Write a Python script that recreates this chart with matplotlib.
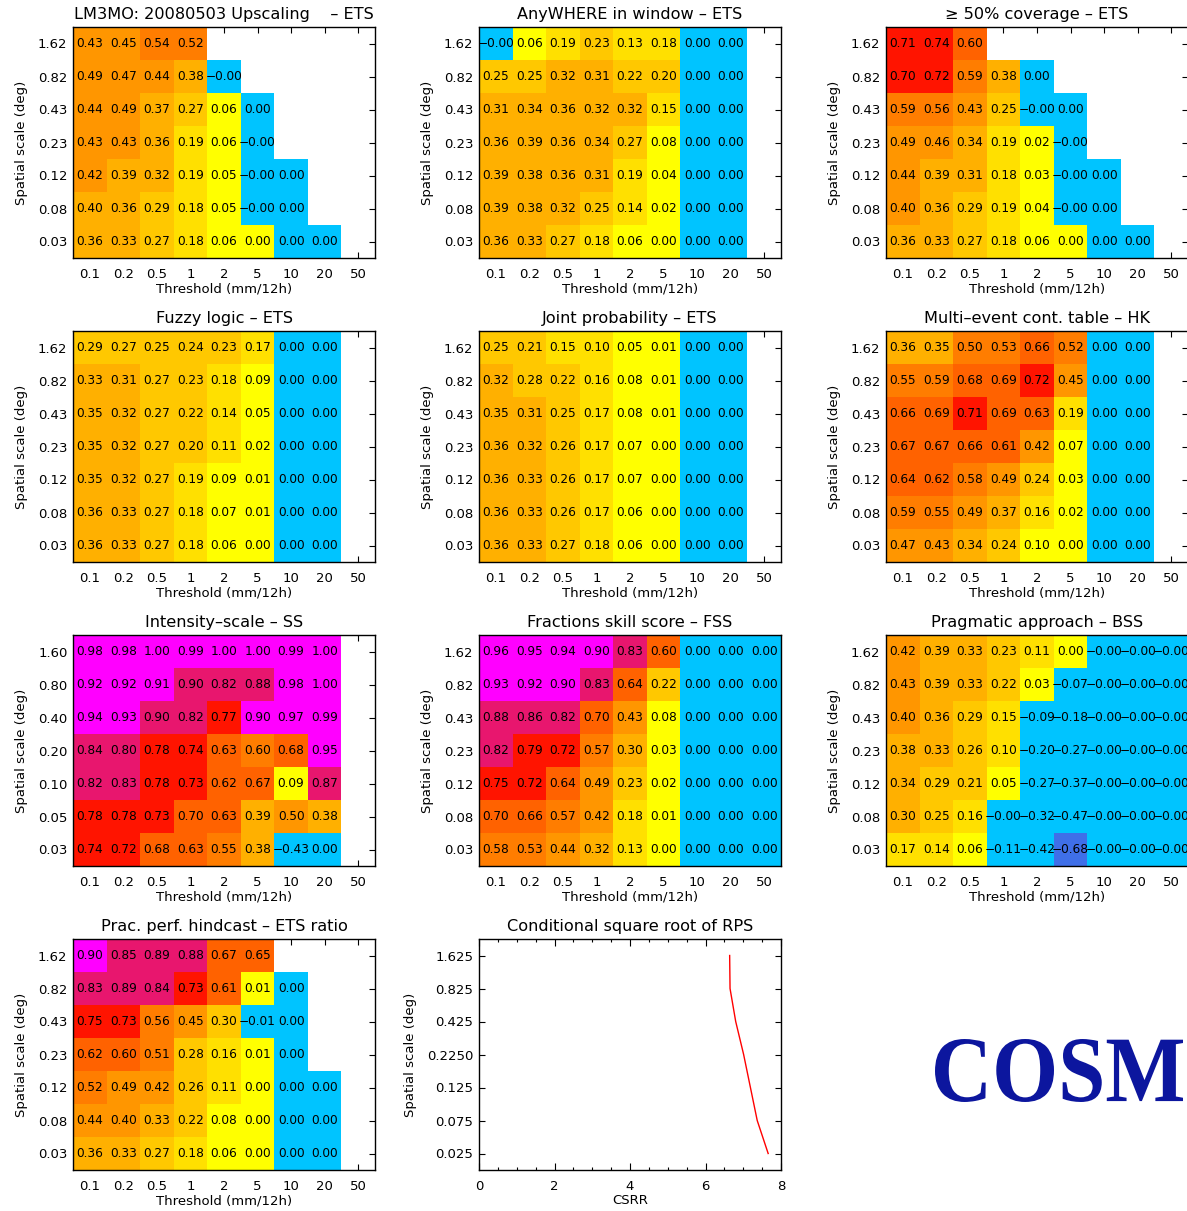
import numpy as np
import matplotlib
matplotlib.use('Agg')
import matplotlib.pyplot as plt
from matplotlib.colors import ListedColormap, BoundaryNorm
from matplotlib.textpath import TextPath
from matplotlib.patches import PathPatch
from matplotlib.font_manager import FontProperties
from matplotlib.transforms import Affine2D

n = np.nan

thresholds = ['0.1', '0.2', '0.5', '1', '2', '5', '10', '20', '50']
scales = ['1.62', '0.82', '0.43', '0.23', '0.12', '0.08', '0.03']
scales_is = ['1.60', '0.80', '0.40', '0.20', '0.10', '0.05', '0.03']
scales_csrr = ['1.625', '0.825', '0.425', '0.2250', '0.125', '0.075', '0.025']

# rows: largest scale first (top of the panel), columns: thresholds
upscaling = [
    [0.43, 0.45, 0.54, 0.52, n, n, n, n, n],
    [0.49, 0.47, 0.44, 0.38, -0.001, n, n, n, n],
    [0.44, 0.49, 0.37, 0.27, 0.06, 0.0, n, n, n],
    [0.43, 0.43, 0.36, 0.19, 0.06, -0.001, n, n, n],
    [0.42, 0.39, 0.32, 0.19, 0.05, -0.001, 0.0, n, n],
    [0.399, 0.36, 0.29, 0.18, 0.05, -0.001, 0.0, n, n],
    [0.36, 0.33, 0.27, 0.18, 0.06, 0.001, 0.0, 0.0, n],
]
anywhere = [
    [-0.001, 0.06, 0.19, 0.23, 0.13, 0.18, 0.0, 0.0, n],
    [0.25, 0.25, 0.32, 0.31, 0.22, 0.20, 0.0, 0.0, n],
    [0.31, 0.34, 0.36, 0.32, 0.32, 0.15, 0.0, 0.0, n],
    [0.36, 0.39, 0.36, 0.34, 0.27, 0.08, 0.0, 0.0, n],
    [0.39, 0.38, 0.36, 0.31, 0.19, 0.04, 0.0, 0.0, n],
    [0.39, 0.38, 0.32, 0.25, 0.14, 0.02, 0.0, 0.0, n],
    [0.36, 0.33, 0.27, 0.18, 0.06, 0.001, 0.0, 0.0, n],
]
coverage50 = [
    [0.71, 0.74, 0.60, n, n, n, n, n, n],
    [0.70, 0.72, 0.59, 0.38, 0.0, n, n, n, n],
    [0.59, 0.56, 0.43, 0.25, -0.001, 0.0, n, n, n],
    [0.49, 0.46, 0.34, 0.19, 0.02, -0.001, n, n, n],
    [0.44, 0.39, 0.31, 0.18, 0.03, -0.001, 0.0, n, n],
    [0.40, 0.36, 0.29, 0.19, 0.04, -0.001, 0.0, n, n],
    [0.36, 0.33, 0.27, 0.18, 0.06, 0.001, 0.0, 0.0, n],
]
fuzzy = [
    [0.29, 0.27, 0.25, 0.24, 0.23, 0.17, 0.0, 0.0, n],
    [0.33, 0.31, 0.27, 0.23, 0.18, 0.09, 0.0, 0.0, n],
    [0.35, 0.32, 0.27, 0.22, 0.14, 0.05, 0.0, 0.0, n],
    [0.35, 0.32, 0.27, 0.20, 0.11, 0.02, 0.0, 0.0, n],
    [0.35, 0.32, 0.27, 0.19, 0.09, 0.01, 0.0, 0.0, n],
    [0.36, 0.33, 0.27, 0.18, 0.07, 0.01, 0.0, 0.0, n],
    [0.36, 0.33, 0.27, 0.18, 0.06, 0.001, 0.0, 0.0, n],
]
joint = [
    [0.25, 0.21, 0.15, 0.10, 0.05, 0.01, 0.0, 0.0, n],
    [0.32, 0.28, 0.22, 0.16, 0.08, 0.01, 0.0, 0.0, n],
    [0.35, 0.31, 0.25, 0.17, 0.08, 0.01, 0.0, 0.0, n],
    [0.36, 0.32, 0.26, 0.17, 0.07, 0.001, 0.0, 0.0, n],
    [0.36, 0.33, 0.26, 0.17, 0.07, 0.001, 0.0, 0.0, n],
    [0.36, 0.33, 0.26, 0.17, 0.06, 0.001, 0.0, 0.0, n],
    [0.36, 0.33, 0.27, 0.18, 0.06, 0.001, 0.0, 0.0, n],
]
multievent = [
    [0.36, 0.35, 0.50, 0.53, 0.66, 0.52, 0.0, 0.0, n],
    [0.55, 0.59, 0.68, 0.69, 0.72, 0.45, 0.0, 0.0, n],
    [0.66, 0.69, 0.71, 0.69, 0.63, 0.19, 0.0, 0.0, n],
    [0.67, 0.67, 0.66, 0.61, 0.42, 0.07, 0.0, 0.0, n],
    [0.64, 0.62, 0.58, 0.49, 0.24, 0.03, 0.0, 0.0, n],
    [0.59, 0.55, 0.49, 0.37, 0.16, 0.02, 0.0, 0.0, n],
    [0.47, 0.43, 0.34, 0.24, 0.099, 0.001, 0.0, 0.0, n],
]
intensity = [
    [0.98, 0.98, 1.00, 0.99, 1.00, 1.00, 0.99, 1.00, n],
    [0.92, 0.92, 0.91, 0.899, 0.82, 0.88, 0.98, 1.00, n],
    [0.94, 0.93, 0.899, 0.82, 0.77, 0.90, 0.97, 0.99, n],
    [0.84, 0.80, 0.78, 0.74, 0.63, 0.599, 0.68, 0.95, n],
    [0.82, 0.83, 0.78, 0.73, 0.62, 0.67, 0.09, 0.87, n],
    [0.78, 0.78, 0.73, 0.699, 0.63, 0.39, 0.499, 0.38, n],
    [0.74, 0.72, 0.68, 0.63, 0.55, 0.38, -0.43, 0.0, n],
]
fss = [
    [0.96, 0.95, 0.94, 0.90, 0.83, 0.60, 0.0, 0.0, 0.0],
    [0.93, 0.92, 0.90, 0.83, 0.64, 0.22, 0.0, 0.0, 0.0],
    [0.88, 0.86, 0.82, 0.699, 0.43, 0.08, 0.0, 0.0, 0.0],
    [0.82, 0.79, 0.72, 0.57, 0.30, 0.03, 0.0, 0.0, 0.0],
    [0.75, 0.72, 0.64, 0.49, 0.23, 0.02, 0.0, 0.0, 0.0],
    [0.699, 0.66, 0.57, 0.42, 0.18, 0.01, 0.0, 0.0, 0.0],
    [0.58, 0.53, 0.44, 0.32, 0.13, 0.001, 0.0, 0.0, 0.0],
]
pragmatic = [
    [0.42, 0.39, 0.33, 0.23, 0.11, 0.001, -0.001, -0.001, -0.001],
    [0.43, 0.39, 0.33, 0.22, 0.03, -0.07, -0.001, -0.001, -0.001],
    [0.40, 0.36, 0.29, 0.15, -0.09, -0.18, -0.001, -0.001, -0.001],
    [0.38, 0.33, 0.26, 0.10, -0.20, -0.27, -0.001, -0.001, -0.001],
    [0.34, 0.29, 0.21, 0.05, -0.27, -0.37, -0.001, -0.001, -0.001],
    [0.30, 0.25, 0.16, -0.001, -0.32, -0.47, -0.001, -0.001, -0.001],
    [0.17, 0.14, 0.06, -0.11, -0.42, -0.68, -0.001, -0.001, -0.001],
]
pph = [
    [0.90, 0.85, 0.89, 0.88, 0.67, 0.65, n, n, n],
    [0.83, 0.89, 0.84, 0.73, 0.61, 0.01, 0.0, n, n],
    [0.75, 0.73, 0.56, 0.45, 0.299, -0.01, 0.0, n, n],
    [0.62, 0.60, 0.51, 0.28, 0.16, 0.01, 0.0, n, n],
    [0.52, 0.49, 0.42, 0.26, 0.11, 0.001, 0.0, 0.0, n],
    [0.44, 0.40, 0.33, 0.22, 0.08, 0.001, 0.0, 0.0, n],
    [0.36, 0.33, 0.27, 0.18, 0.06, 0.001, 0.0, 0.0, n],
]
csrr = [6.64, 6.65, 6.80, 7.01, 7.19, 7.37, 7.66]

# discrete colour table (IDL style)
levels = [-1.0, -0.5, 1e-9, 0.1, 0.2, 0.3, 0.4, 0.5, 0.6, 0.7, 0.8, 0.9, 1.01]
colours = ['#3f6fe8', '#00c4ff', '#ffff00', '#ffe000', '#ffc800', '#ffb000',
           '#ff9600', '#ff7d00', '#ff6200', '#ff1400', '#e8166e', '#ff00ff']
cmap = ListedColormap(colours)
norm = BoundaryNorm(levels, cmap.N)

W, H = 1187, 1211
fig = plt.figure(figsize=(W / 100, H / 100), dpi=100)
plt.rcParams['font.family'] = 'DejaVu Sans'

col_left = [73, 479, 886]
row_top = [27, 331, 635, 939]
aw, ah = 302, 231


def make_ax(r, c):
    return fig.add_axes([col_left[c] / W, 1 - (row_top[r] + ah) / H, aw / W, ah / H])


def style(ax, title, ylabels):
    ax.set_yticks(range(7))
    ax.set_yticklabels(ylabels)
    ax.set_ylim(6.5, -0.5)
    ax.tick_params(direction='in', length=4, top=True, right=True,
                   labelsize=9.5, width=0.8)
    ax.tick_params(axis='x', pad=7)
    ax.tick_params(axis='y', pad=4)
    ax.set_title(title, fontsize=11.6, pad=6)
    ax.set_ylabel('Spatial scale (deg)', fontsize=9.5, labelpad=7)
    for s in ax.spines.values():
        s.set_linewidth(1.0)
        s.set_zorder(2.5)


def heat(ax, data, title, ylabels=scales):
    d = np.ma.masked_invalid(np.array(data, dtype=float))
    x = np.arange(10) - 0.5
    y = np.arange(8) - 0.5
    ax.pcolormesh(x, y, d, cmap=cmap, norm=norm, zorder=2)
    for i in range(d.shape[0]):
        for j in range(d.shape[1]):
            if d.mask[i, j]:
                continue
            txt = ('%.2f' % d[i, j]).replace('-', '\u2212')
            ax.text(j, i, txt, ha='center', va='center', fontsize=8.7, zorder=3)
    ax.set_xticks(range(9))
    ax.set_xticklabels(thresholds)
    ax.set_xlim(-0.5, 8.5)
    ax.set_xlabel('Threshold (mm/12h)', fontsize=9.5, labelpad=1)
    style(ax, title, ylabels)


panels = [
    (0, 0, upscaling, 'LM3MO: 20080503 Upscaling    \u2013 ETS', scales),
    (0, 1, anywhere, 'AnyWHERE in window \u2013 ETS', scales),
    (0, 2, coverage50, '\u2265 50% coverage \u2013 ETS', scales),
    (1, 0, fuzzy, 'Fuzzy logic \u2013 ETS', scales),
    (1, 1, joint, 'Joint probability \u2013 ETS', scales),
    (1, 2, multievent, 'Multi\u2013event cont. table \u2013 HK', scales),
    (2, 0, intensity, 'Intensity\u2013scale \u2013 SS', scales_is),
    (2, 1, fss, 'Fractions skill score \u2013 FSS', scales),
    (2, 2, pragmatic, 'Pragmatic approach \u2013 BSS', scales),
    (3, 0, pph, 'Prac. perf. hindcast \u2013 ETS ratio', scales),
]
for r, c, data, title, ylab in panels:
    heat(make_ax(r, c), data, title, ylab)

# CSRR line panel
ax = make_ax(3, 1)
ax.plot(csrr, range(7), color='red', lw=1.0)
ax.set_xlim(0, 8)
ax.set_xticks([0, 2, 4, 6, 8])
ax.set_xticks(np.arange(0, 8.01, 0.5), minor=True)
ax.tick_params(which='minor', direction='in', length=2.5, top=True, width=0.8)
ax.set_xlabel('CSRR', fontsize=9.5, labelpad=1)
style(ax, 'Conditional square root of RPS', scales_csrr)
ax.tick_params(axis='x', which='major', length=5)

# COSM logo, drawn as a path so it can be fitted to its box (pixels)
tp = TextPath((0, 0), 'COSM', size=100,
              prop=FontProperties(family='Liberation Serif', weight='bold'))
ext = tp.get_extents()
x0, x1, ytop, ybot = 935, 1183, 1039, 1102
sx = (x1 - x0) / ext.width
sy = (ybot - ytop) / ext.height
tr = Affine2D().translate(-ext.x0, -ext.y0).scale(sx, sy).translate(x0, H - ybot)
logo = PathPatch(tr.transform_path(tp), facecolor='#0c169e', edgecolor='none')
logo.set_transform(Affine2D())
fig.add_artist(logo)

fig.savefig('out.png', dpi=100)
